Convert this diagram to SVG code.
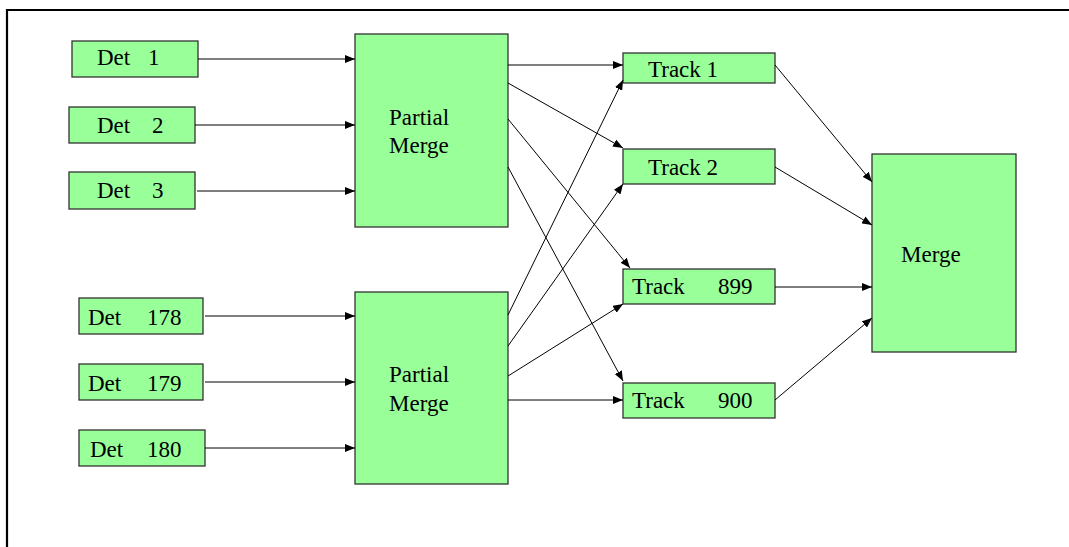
<svg xmlns="http://www.w3.org/2000/svg" width="1069" height="547" viewBox="0 0 1069 547">
<style>
.box{fill:#99FF99;stroke:#333;stroke-width:1.3}
.t{font-family:"Liberation Serif","Times New Roman",serif;font-size:23px;fill:#000}
.c line{stroke:#000;stroke-width:1;marker-end:url(#ah)}
.frame{stroke:#000;stroke-width:2.2}
</style>
<defs>
<marker id="ah" viewBox="0 0 10 8" refX="10" refY="4" markerWidth="10" markerHeight="8" markerUnits="userSpaceOnUse" orient="auto">
<path d="M0,0 L10,4 L0,8 z" fill="#000"/>
</marker>
</defs>
<rect width="1069" height="547" fill="#fff"/>
<line class="frame" x1="6" y1="10" x2="1069" y2="10"/>
<line class="frame" x1="7" y1="9" x2="7" y2="547"/>

<g id="det1"><rect class="box" x="72" y="41" width="126" height="36"/><text class="t"><tspan x="97" y="65">Det</tspan><tspan x="148" y="65">1</tspan></text></g>
<g id="det2"><rect class="box" x="69" y="107" width="126" height="36"/><text class="t"><tspan x="97" y="133">Det</tspan><tspan x="152" y="133">2</tspan></text></g>
<g id="det3"><rect class="box" x="69" y="172" width="126" height="37"/><text class="t"><tspan x="97" y="198">Det</tspan><tspan x="152" y="198">3</tspan></text></g>
<g id="det178"><rect class="box" x="79" y="298" width="124" height="36"/><text class="t"><tspan x="88" y="325">Det</tspan><tspan x="147" y="325">178</tspan></text></g>
<g id="det179"><rect class="box" x="79" y="364" width="124" height="36"/><text class="t"><tspan x="88" y="391">Det</tspan><tspan x="147" y="391">179</tspan></text></g>
<g id="det180"><rect class="box" x="79" y="430" width="126" height="36"/><text class="t"><tspan x="90" y="457">Det</tspan><tspan x="147" y="457">180</tspan></text></g>

<g id="pm1"><rect class="box" x="355" y="34" width="153" height="193"/><text class="t"><tspan x="389" y="125">Partial</tspan><tspan x="389" y="153">Merge</tspan></text></g>
<g id="pm2"><rect class="box" x="355" y="292" width="153" height="192"/><text class="t"><tspan x="389" y="382">Partial</tspan><tspan x="389" y="411">Merge</tspan></text></g>

<g id="track1"><rect class="box" x="623" y="53" width="152" height="30"/><text class="t" x="648" y="77">Track 1</text></g>
<g id="track2"><rect class="box" x="623" y="149" width="152" height="35"/><text class="t" x="648" y="175">Track 2</text></g>
<g id="track899"><rect class="box" x="623" y="269" width="152" height="35"/><text class="t"><tspan x="632" y="294">Track</tspan><tspan x="718" y="294">899</tspan></text></g>
<g id="track900"><rect class="box" x="623" y="383" width="152" height="35"/><text class="t"><tspan x="632" y="408">Track</tspan><tspan x="718" y="408">900</tspan></text></g>

<g id="merge"><rect class="box" x="872" y="154" width="144" height="198"/><text class="t" x="901" y="262">Merge</text></g>

<g id="connectors" class="c">
<line x1="198" y1="59" x2="355" y2="59"/>
<line x1="195" y1="125" x2="355" y2="125"/>
<line x1="197" y1="191" x2="355" y2="191"/>
<line x1="205" y1="316" x2="355" y2="316"/>
<line x1="205" y1="382" x2="355" y2="382"/>
<line x1="205" y1="448" x2="355" y2="448"/>

<line x1="508" y1="65" x2="623" y2="65"/>
<line x1="508" y1="83" x2="623" y2="148"/>
<line x1="508" y1="119" x2="630" y2="268"/>
<line x1="508" y1="167" x2="623" y2="381"/>

<line x1="508" y1="315" x2="623" y2="80"/>
<line x1="508" y1="346" x2="623" y2="184"/>
<line x1="508" y1="376" x2="623" y2="304"/>
<line x1="508" y1="400" x2="623" y2="400"/>

<line x1="775" y1="65" x2="872" y2="182"/>
<line x1="775" y1="167" x2="872" y2="225"/>
<line x1="775" y1="287" x2="872" y2="287"/>
<line x1="775" y1="400" x2="872" y2="318"/>
</g>
</svg>
